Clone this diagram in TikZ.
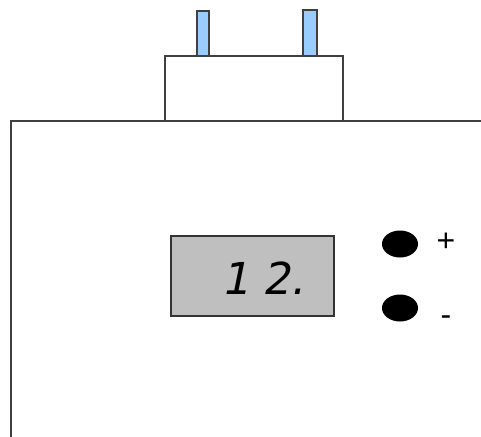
\documentclass[tikz,border=0pt]{standalone}
\usepackage{fontspec}
\usetikzlibrary{shapes.geometric}
\newfontfamily\segfont[FakeSlant=0.2]{DejaVu Sans}
\newfontfamily\labfont{Liberation Sans}
\definecolor{pinblue}{RGB}{153,204,255}
\begin{document}
\begin{tikzpicture}[x=1pt,y=-1pt,
  line/.style={draw=black!75,line width=1.3pt},
  pin/.style={line,fill=pinblue,line width=1.2pt},
  btn/.style={ellipse,fill=black,minimum width=36pt,minimum height=27pt,inner sep=0pt},
  lab/.style={font=\labfont\fontsize{32}{32}\selectfont,inner sep=0pt}]
\useasboundingbox (0,0) rectangle (481,436);
% pins
\draw[pin] (197,11) rectangle (209,56);
\draw[pin] (303,10) rectangle (317,56);
% plug body
\draw[line,fill=white] (165,121) -- (165,56) -- (343,56) -- (343,121);
% housing
\draw[line] (481,121) -- (11,121) -- (11,437);
% display
\node[draw=black!80,line width=1.3pt,fill=black!25,minimum width=163pt,minimum height=80pt,inner sep=0pt] (disp) at (252.5,276) {};
\node[font=\segfont\fontsize{44}{44}\selectfont,inner sep=0pt] (digits) at (263,278) {1\hspace{14pt}2.};
% buttons
\node[btn] (plus) at (400,244) {};
\node[btn] (minus) at (400,308) {};
\node[lab] (pluslab) at (446,242) {+};
\node[lab] (minuslab) at (446,321) {-};
\end{tikzpicture}
\end{document}
